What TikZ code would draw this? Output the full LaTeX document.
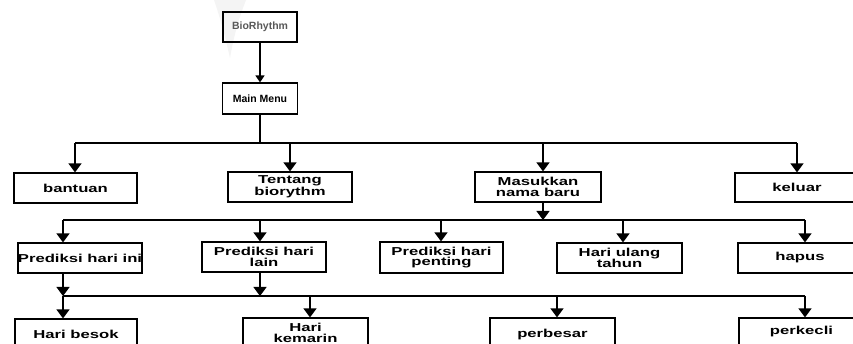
\documentclass[tikz,border=0pt]{standalone}
\usepackage{fontspec}
\setmainfont{Liberation Sans}
\newfontfamily\hdfont{Liberation Sans Bold}
\newfontfamily\wdfont[FakeStretch=1.45]{Liberation Sans Bold}
\usetikzlibrary{arrows.meta}
\begin{document}
\begin{tikzpicture}[x=1pt,y=-1pt,
  box/.style={draw, line width=1.2pt, inner sep=0pt, minimum height=30pt,
    align=center, font=\wdfont\fontsize{11.5}{10.5}\selectfont},
  topbox/.style={box, font=\hdfont\fontsize{10.5}{10}\selectfont},
  wire/.style={line width=1.3pt},
  arr/.style={wire, -{Triangle[width=13pt,length=9pt]}},
  smallarr/.style={wire, -{Triangle[width=9pt,length=7pt]}}]
\useasboundingbox (0,0) rectangle (853,344);
\fill[white] (0,0) rectangle (853,344);
\clip (0,0) rectangle (853,344);

% faint mark at the top
\fill[gray!9] (214,0) -- (246,0) .. controls (238,20) and (233,40) .. (230,58)
  .. controls (226,40) and (221,20) .. (214,0) -- cycle;

% title and main menu
\node[topbox, minimum width=74pt, text=black!65] (bio) at (260,27) {BioRhythm};
\node[topbox, minimum width=75pt, minimum height=31pt] (menu) at (260,98.5) {Main Menu};

% first level
\node[box, minimum width=123pt] (bantuan) at (75.5,188) {bantuan};
\node[box, minimum width=124pt] (tentang) at (290,187) {Tentang\\biorythm};
\node[box, minimum width=126pt] (masuk) at (538,187) {Masukkan\\nama baru};
\node[box, minimum width=124pt, minimum height=29pt] (keluar) at (797,187.5) {keluar};

% second level
\node[box, minimum width=124pt] (predini) at (80,258) {Prediksi hari ini};
\node[box, minimum width=124pt] (predlain) at (264,257) {Prediksi hari\\lain};
\node[box, minimum width=123pt, minimum height=31pt] (predpenting) at (441.5,257.5) {Prediksi hari\\penting};
\node[box, minimum width=125pt] (ulang) at (619.5,258) {Hari ulang\\tahun};
\node[box, minimum width=124pt] (hapus) at (800,258) {hapus};

% third level
\node[box, minimum width=122pt] (besok) at (76,334) {Hari besok};
\node[box, minimum width=125pt] (kemarin) at (305.5,333) {Hari\\kemarin};
\node[box, minimum width=125pt, minimum height=34pt] (perbesar) at (552.5,335) {perbesar};
\node[box, minimum width=125pt, minimum height=28pt] (perkecil) at (801.5,332) {perkecli};

% bus junctions
\coordinate (a1) at (75,143);  \coordinate (a2) at (290,143);
\coordinate (a3) at (543,143); \coordinate (a4) at (797,143);
\coordinate (m1) at (543,220);
\coordinate (b1) at (63,220);  \coordinate (b2) at (260,220);
\coordinate (b3) at (441,220); \coordinate (b4) at (623,220);
\coordinate (b5) at (805,220);
\coordinate (c1) at (63,296);  \coordinate (c2) at (260,296);
\coordinate (c3) at (310,296); \coordinate (c4) at (557,296);
\coordinate (c5) at (805,296);

% connectors
\draw[smallarr] (bio) -- (menu);
\draw[wire] (menu.south) -- (menu.south |- a1);
\draw[wire] (a1) -- (a4);
\foreach \p/\n in {a1/bantuan, a2/tentang, a3/masuk, a4/keluar}
  \draw[arr] (\p) -- (\p |- \n.north);

\draw[arr] (m1 |- masuk.south) -- (m1);
\draw[wire] (b1) -- (b5);
\foreach \p/\n in {b1/predini, b2/predlain, b3/predpenting, b4/ulang, b5/hapus}
  \draw[arr] (\p) -- (\p |- \n.north);

\draw[arr] (c1 |- predini.south) -- (c1);
\draw[arr] (c2 |- predlain.south) -- (c2);
\draw[wire] (c1) -- (c5);
\foreach \p/\n in {c1/besok, c3/kemarin, c4/perbesar, c5/perkecil}
  \draw[arr] (\p) -- (\p |- \n.north);
\end{tikzpicture}
\end{document}
